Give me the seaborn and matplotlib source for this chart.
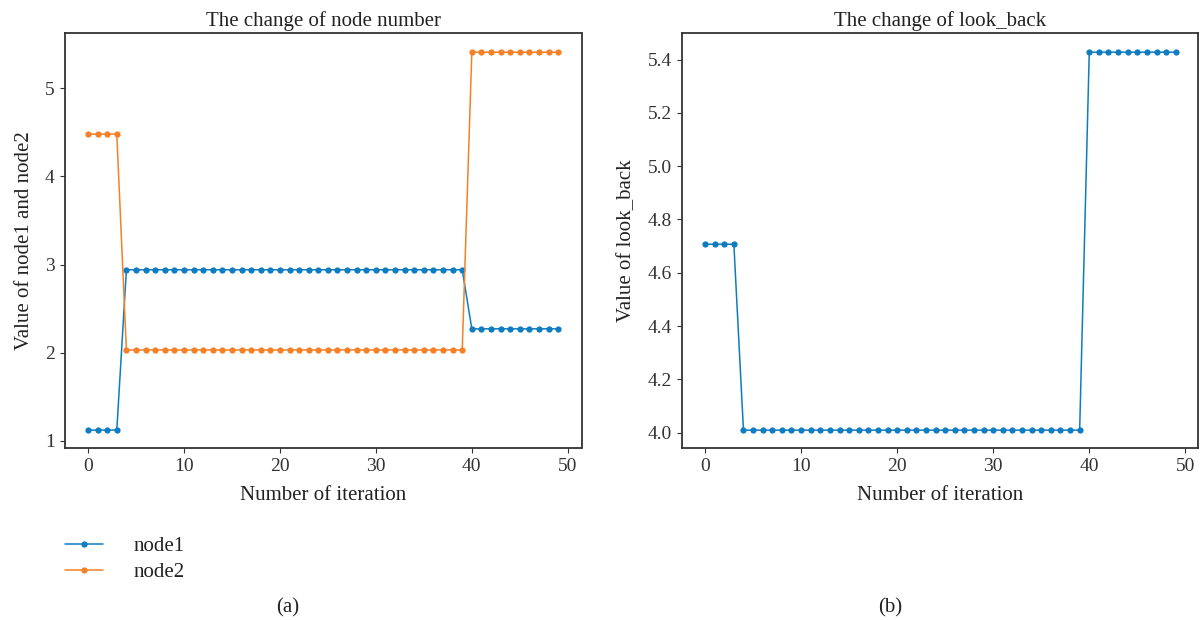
import numpy as np
import pandas as pd
import seaborn as sns
import matplotlib.pyplot as plt

# values
iterations = list(range(50))
node1 = [1.12] * 4 + [2.94] * 36 + [2.27] * 10
node2 = [4.48] * 4 + [2.03] * 36 + [5.41] * 10
look_back = [4.707] * 4 + [4.009] * 36 + [5.428] * 10

blue = "#0e7cc1"
orange = "#f58025"

sns.set_style("ticks")
plt.rcParams['font.family'] = ['Liberation Serif', 'DejaVu Serif']
plt.rcParams['axes.edgecolor'] = '#333333'
plt.rcParams['axes.linewidth'] = 1.3
plt.rcParams['xtick.color'] = '#333333'
plt.rcParams['ytick.color'] = '#333333'
plt.rcParams['text.color'] = '#222222'
plt.rcParams['axes.labelcolor'] = '#222222'

df_nodes = pd.DataFrame({
    "iteration": iterations * 2,
    "value": node1 + node2,
    "series": ["node1"] * 50 + ["node2"] * 50,
})
df_lb = pd.DataFrame({"iteration": iterations, "value": look_back})

W, H = 1204, 620
fig = plt.figure(figsize=(12.04, 6.2), dpi=100)
ax1 = fig.add_axes([64.5 / W, 1 - 448 / H, 517 / W, 415 / H])
ax2 = fig.add_axes([681.7 / W, 1 - 448 / H, 516.3 / W, 415 / H])

sns.lineplot(data=df_nodes, x="iteration", y="value", hue="series",
             palette=[blue, orange], marker="o", markersize=4.5,
             markeredgewidth=0, linewidth=1.1, ax=ax1)
ax1.set_xlim(-2.45, 51.43)
ax1.set_ylim(0.917, 5.628)
ax1.set_yticks([1, 2, 3, 4, 5])
ax1.set_xticks([0, 10, 20, 30, 40, 50])
ax1.set_title("The change of node number", fontsize=15, pad=5)
ax1.set_xlabel("Number of iteration", fontsize=15, labelpad=8)
ax1.set_ylabel("Value of node1 and node2", fontsize=15, labelpad=8)
ax1.tick_params(labelsize=14, length=3.5)
ax1.legend(loc="upper left", bbox_to_anchor=(-0.015, -0.193), frameon=False,
           fontsize=15, handlelength=1.8, handletextpad=1.5, labelspacing=0.3,
           borderaxespad=0)

sns.lineplot(data=df_lb, x="iteration", y="value", color=blue,
             marker="o", markersize=4.5, markeredgewidth=0,
             linewidth=1.1, ax=ax2)
ax2.set_xlim(-2.43, 51.32)
ax2.set_ylim(3.942, 5.5)
ax2.set_yticks([4.0, 4.2, 4.4, 4.6, 4.8, 5.0, 5.2, 5.4])
ax2.set_yticklabels(["4.0", "4.2", "4.4", "4.6", "4.8", "5.0", "5.2", "5.4"])
ax2.set_xticks([0, 10, 20, 30, 40, 50])
ax2.set_title("The change of look_back", fontsize=15, pad=5)
ax2.set_xlabel("Number of iteration", fontsize=15, labelpad=8)
ax2.set_ylabel("Value of look_back", fontsize=15, labelpad=8)
ax2.tick_params(labelsize=14, length=3.5)

fig.text(288 / W, 1 - 608 / H, "(a)", ha="center", va="center", fontsize=15)
fig.text(890 / W, 1 - 608 / H, "(b)", ha="center", va="center", fontsize=15)

fig.savefig("out.png", dpi=100)
